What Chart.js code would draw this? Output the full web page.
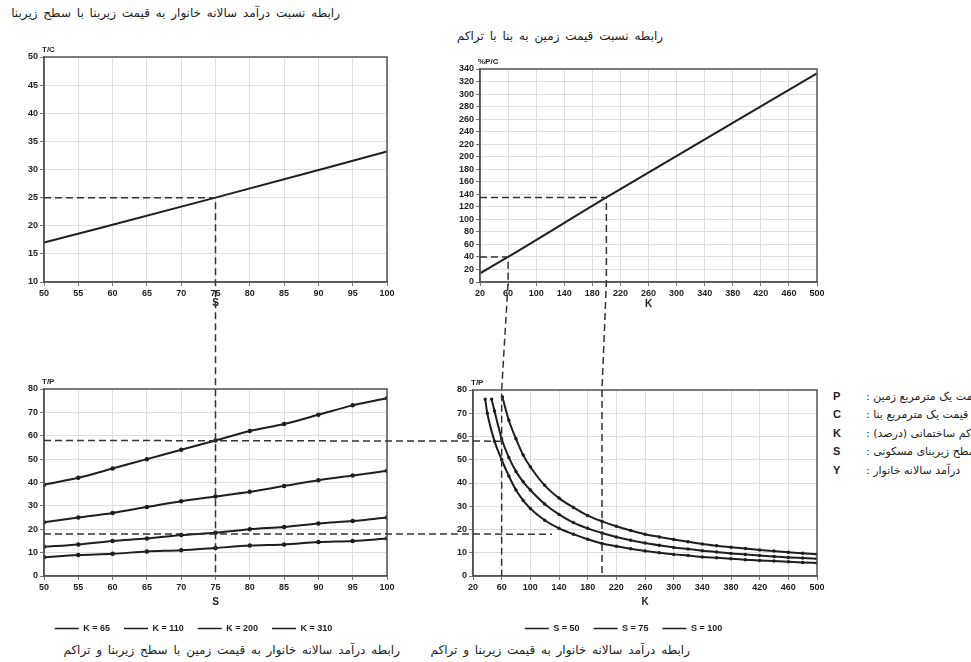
<!DOCTYPE html>
<html>
<head>
<meta charset="utf-8">
<script src="https://cdn.jsdelivr.net/npm/chart.js@4.4.1/dist/chart.umd.min.js"></script>
<style>
  body { margin: 0; width: 971px; height: 662px; overflow: hidden; background: #fff; position: relative; font-family: 'DejaVu Sans', sans-serif; }
  canvas { position: absolute; }
  .cap { position: absolute; white-space: nowrap; direction: rtl; font-size: 12px; word-spacing: 2px; color: #222; }
  .key { position: absolute; font-size: 11px; color: #222; white-space: nowrap; }
  .key b { position: absolute; left: 833px; font-family: 'Liberation Sans'; font-size: 11px; }
  .key span { position: absolute; left: 866px; direction: rtl; }
</style>
</head>
<body>
<div class="cap" style="right:631px; top:6px;">رابطه نسبت درآمد سالانه خانوار به قیمت زیربنا با سطح زیربنا</div>
<div class="cap" style="left:455px; width:210px; text-align:center; top:29px;">رابطه نسبت قیمت زمین به بنا با تراکم</div>
<div class="cap" style="right:571px; top:643px;">رابطه درآمد سالانه خانوار به قیمت زمین با سطح زیربنا و تراکم</div>
<div class="cap" style="right:281px; top:643px;">رابطه درآمد سالانه خانوار به قیمت زیربنا و تراکم</div>

<div class="key" style="top:390px;"><b>P</b><span>قیمت یک مترمربع زمین :</span></div>
<div class="key" style="top:408px;"><b>C</b><span>قیمت یک مترمربع بنا :</span></div>
<div class="key" style="top:427px;"><b>K</b><span>تراکم ساختمانی (درصد) :</span></div>
<div class="key" style="top:445px;"><b>S</b><span>سطح زیربنای مسکونی :</span></div>
<div class="key" style="top:464px;"><b>Y</b><span>درآمد سالانه خانوار :</span></div>

<canvas id="chartA" width="400" height="271" style="left:0;top:40px;"></canvas>
<canvas id="chartB" width="397" height="267" style="left:440px;top:45px;"></canvas>
<canvas id="chartC" width="400" height="273" style="left:0;top:370px;"></canvas>
<canvas id="chartD" width="407" height="273" style="left:430px;top:370px;"></canvas>
<canvas id="guides" width="971" height="662" style="left:0;top:0;pointer-events:none;"></canvas>

<script>
// top-left: T/C against S
const tcS = [50, 75, 100];
const tcValues = [17, 25, 33.2];

// top-right: %P/C against K
const pcK = [20, 60, 200, 500];
const pcValues = [14, 40, 135, 333];

// bottom-left: T/P against S, one line per K
const sizes = [50, 55, 60, 65, 70, 75, 80, 85, 90, 95, 100];
const kLabels = ['K = 65', 'K = 110', 'K = 200', 'K = 310'];
const tpK65 = [39, 42, 46, 50, 54, 58, 62, 65, 69, 73, 76];
const tpK110 = [23, 25, 27, 29.5, 32, 34, 36, 38.5, 41, 43, 45];
const tpK200 = [12.5, 13.5, 15, 16, 17.5, 18.5, 20, 21, 22.5, 23.5, 25];
const tpK310 = [8, 9, 9.5, 10.5, 11, 12, 13, 13.5, 14.5, 15, 16];

// bottom-right: T/P against K, one curve per S
const sLabels = ['S = 50', 'S = 75', 'S = 100'];
const kS50 = [37, 40, 50, 60, 70, 80, 90, 100, 120, 140, 160, 180, 200, 220, 240, 260, 280, 300, 320, 340, 360, 380, 400, 420, 440, 460, 480, 500];
const tpS50 = [76, 70, 58, 50, 43, 37, 32.5, 29, 24, 20.5, 18, 15.8, 14, 12.8, 11.7, 10.8, 10, 9.3, 8.8, 8.2, 7.8, 7.4, 7, 6.7, 6.4, 6.1, 5.8, 5.6];
const kS75 = [46, 50, 60, 70, 80, 90, 100, 120, 140, 160, 180, 200, 220, 240, 260, 280, 300, 320, 340, 360, 380, 400, 420, 440, 460, 480, 500];
const tpS75 = [76, 71, 59, 51, 45, 40.5, 37, 31, 26.5, 23, 20.5, 18.5, 16.8, 15.4, 14.2, 13.2, 12.3, 11.6, 10.9, 10.3, 9.7, 9.3, 8.8, 8.4, 8, 7.7, 7.4];
const kS100 = [61, 70, 80, 90, 100, 120, 140, 160, 180, 200, 220, 240, 260, 280, 300, 320, 340, 360, 380, 400, 420, 440, 460, 480, 500];
const tpS100 = [77, 67, 59, 52, 47, 39, 33.5, 29.5, 26, 23.5, 21.4, 19.6, 18, 16.8, 15.7, 14.7, 13.8, 13, 12.4, 11.8, 11.2, 10.7, 10.2, 9.8, 9.4];

// dashed reading guides
const guideS = 75, guideTC = 25;
const guideK = [60, 200], guidePC = [40, 135];
const guideTP = [58, 18], guideTPEnd = [60, 130];

const ink = '#1e1e1e';
const tickFont = { family: 'Liberation Sans', size: 9, weight: 'bold' };

const framePlugin = {
  id: 'frame',
  afterDraw(chart, args, opts) {
    const { ctx, chartArea: a } = chart;
    ctx.save();
    ctx.strokeStyle = '#555';
    ctx.lineWidth = 1.5;
    ctx.strokeRect(a.left, a.top, a.right - a.left, a.bottom - a.top);
    ctx.fillStyle = ink;
    ctx.font = 'bold 8px "Liberation Sans"';
    ctx.textBaseline = 'bottom';
    ctx.fillText(opts.label, a.left - 2, a.top - 3);
    ctx.restore();
  }
};

function axis(min, max, step, title, size, isX) {
  return {
    type: 'linear', min: min, max: max,
    ticks: { stepSize: step, autoSkip: false, maxRotation: 0, color: ink, font: tickFont, padding: 2 },
    grid: { color: '#dedede', lineWidth: 1, tickLength: 4, tickColor: '#777' },
    border: { color: '#555', width: 1.5 },
    title: { display: !!title, text: title, color: ink, font: { family: 'Liberation Sans', size: 10, weight: 'bold' }, padding: { top: 0, bottom: 2 } },
    afterFit: s => { if (isX) s.height = size; else s.width = size; }
  };
}

function line(label, xs, ys, radius) {
  return {
    label: label,
    data: xs.map((x, i) => ({ x: x, y: ys[i] })),
    borderColor: ink, backgroundColor: ink, borderWidth: 2,
    pointRadius: radius, pointBackgroundColor: ink, pointBorderColor: ink, pointBorderWidth: 1.5,
    cubicInterpolationMode: 'monotone', fill: false
  };
}

function options(xs, ys, pad, label, legend) {
  return {
    responsive: false, animation: false,
    layout: { padding: pad },
    scales: { x: xs, y: ys },
    plugins: {
      tooltip: { enabled: false },
      frame: { label: label },
      legend: {
        display: legend, position: 'bottom',
        labels: { usePointStyle: true, pointStyle: 'line', pointStyleWidth: 24, padding: 14, color: ink, font: tickFont }
      }
    }
  };
}

const chartA = new Chart(document.getElementById('chartA'), {
  type: 'line',
  data: { datasets: [line('T/C', tcS, tcValues, 0)] },
  options: options(axis(50, 100, 5, 'S', 29, true), axis(10, 50, 5, '', 44, false),
    { top: 17, right: 13, left: 0, bottom: 0 }, 'T/C', false),
  plugins: [framePlugin]
});

const chartB = new Chart(document.getElementById('chartB'), {
  type: 'line',
  data: { datasets: [line('%P/C', pcK, pcValues, 0)] },
  options: options(axis(20, 500, 40, 'K', 30, true), axis(0, 340, 20, '', 40, false),
    { top: 24, right: 20, left: 0, bottom: 0 }, '%P/C', false),
  plugins: [framePlugin]
});

const chartC = new Chart(document.getElementById('chartC'), {
  type: 'line',
  data: { datasets: [
    line(kLabels[0], sizes, tpK65, 1.5),
    line(kLabels[1], sizes, tpK110, 1.5),
    line(kLabels[2], sizes, tpK200, 1.5),
    line(kLabels[3], sizes, tpK310, 1.5)
  ] },
  options: options(axis(50, 100, 5, 'S', 34, true), axis(0, 80, 10, '', 44, false),
    { top: 19, right: 13, left: 0, bottom: 0 }, 'T/P', true),
  plugins: [framePlugin]
});

const chartD = new Chart(document.getElementById('chartD'), {
  type: 'line',
  data: { datasets: [
    line(sLabels[0], kS50, tpS50, 1),
    line(sLabels[1], kS75, tpS75, 1),
    line(sLabels[2], kS100, tpS100, 1)
  ] },
  options: options(axis(20, 500, 40, 'K', 34, true), axis(0, 80, 10, '', 43, false),
    { top: 20, right: 20, left: 0, bottom: 0 }, 'T/P', true),
  plugins: [framePlugin]
});

// guides cross panels, so they go on an overlay, placed through each chart's scales
function at(chart, x, y) {
  const c = chart.canvas;
  return [c.offsetLeft + chart.scales.x.getPixelForValue(x), c.offsetTop + chart.scales.y.getPixelForValue(y)];
}

function drawGuides() {
  const g = document.getElementById('guides').getContext('2d');
  g.clearRect(0, 0, 971, 662);
  g.strokeStyle = '#333';
  g.lineWidth = 1.5;
  g.setLineDash([7, 4]);
  const path = pts => {
    g.beginPath();
    pts.forEach((p, i) => i ? g.lineTo(p[0], p[1]) : g.moveTo(p[0], p[1]));
    g.stroke();
  };
  path([at(chartA, 50, guideTC), at(chartA, guideS, guideTC), at(chartC, guideS, 0)]);
  guideK.forEach((k, i) => {
    path([at(chartB, 20, guidePC[i]), at(chartB, k, guidePC[i]), at(chartB, k, 0), at(chartD, k, 80), at(chartD, k, 0)]);
  });
  guideTP.forEach((t, i) => {
    path([at(chartC, 50, t), at(chartD, guideTPEnd[i], t)]);
  });
}
drawGuides();
</script>
</body>
</html>
